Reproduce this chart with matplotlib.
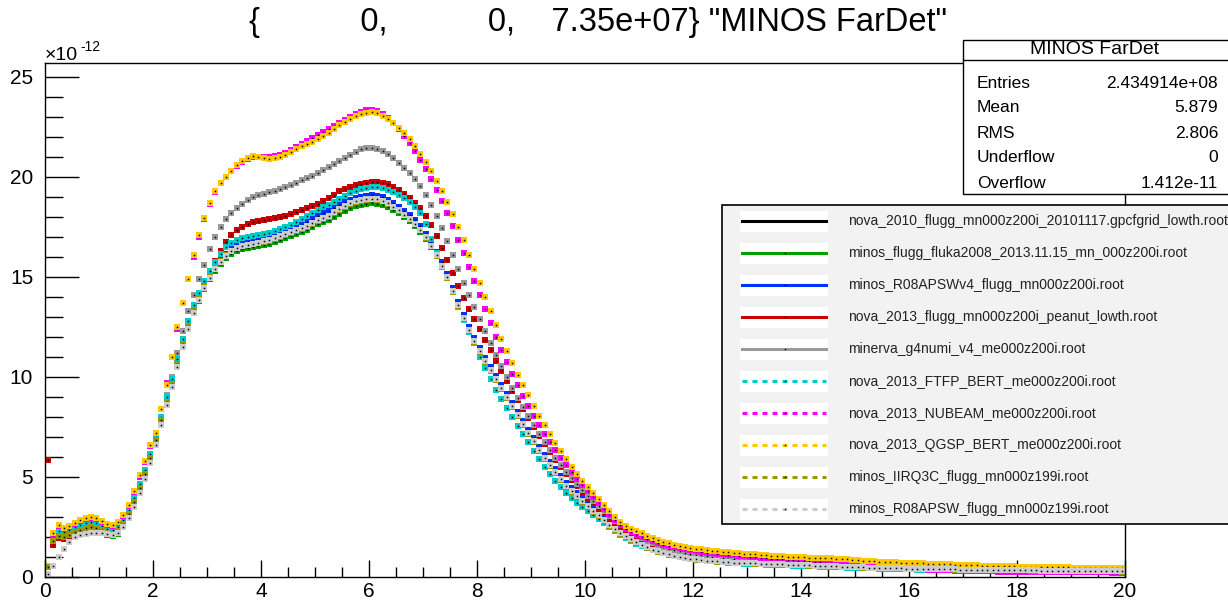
import numpy as np
import matplotlib
matplotlib.use("Agg")
import matplotlib.pyplot as plt
from matplotlib.patches import Rectangle
from matplotlib.lines import Line2D

plt.rcParams['font.family'] = ['Liberation Sans', 'DejaVu Sans']
plt.rcParams['lines.scale_dashes'] = False

# ---------------- data (units of 1e-12), 200 bins from 0 to 20 ----------------
x_min, x_max, n_bins = 0.0, 20.0, 200

nova_2010 = [0.5, 1.9, 2.1, 2.05, 2.15, 2.3, 2.4, 2.5, 2.55, 2.5,
 2.4, 2.25, 2.2, 2.35, 2.7, 3.2, 3.8, 4.5, 5.2, 6.0,
 6.9, 7.9, 8.8, 9.7, 10.7, 11.7, 12.6, 13.4, 14.0, 14.6,
 15.1, 15.5, 15.85, 16.15, 16.35, 16.5, 16.6, 16.65, 16.7, 16.75,
 16.8, 16.85, 16.95, 17.05, 17.15, 17.25, 17.35, 17.45, 17.55, 17.7,
 17.85, 17.95, 18.05, 18.25, 18.4, 18.55, 18.7, 18.8, 18.85, 18.9,
 18.95, 18.9, 18.85, 18.7, 18.55, 18.35, 18.15, 17.95, 17.7, 17.4,
 17.0, 16.6, 16.1, 15.6, 15.0, 14.3, 13.6, 12.95, 12.35, 11.8,
 11.3, 10.8, 10.35, 9.9, 9.45, 9.0, 8.55, 8.1, 7.65, 7.2,
 6.8, 6.35, 5.95, 5.6, 5.25, 4.9, 4.55, 4.3, 4.05, 3.8,
 3.55, 3.3, 3.1, 2.85, 2.6, 2.4, 2.2, 2.05, 1.9, 1.75,
 1.6, 1.48, 1.37, 1.28, 1.2, 1.13, 1.07, 1.01, 0.96, 0.92,
 0.88, 0.85, 0.82, 0.8, 0.78, 0.76, 0.74, 0.72, 0.71, 0.7,
 0.69, 0.68, 0.67, 0.66, 0.65, 0.64, 0.63, 0.62, 0.61, 0.6,
 0.59, 0.58, 0.57, 0.56, 0.55, 0.54, 0.53, 0.52, 0.51, 0.5,
 0.49, 0.48, 0.47, 0.46, 0.45, 0.45, 0.44, 0.43, 0.43, 0.42,
 0.42, 0.41, 0.41, 0.4, 0.4, 0.39, 0.39, 0.38, 0.38, 0.37,
 0.37, 0.37, 0.36, 0.36, 0.36, 0.35, 0.35, 0.35, 0.34, 0.34,
 0.34, 0.33, 0.33, 0.33, 0.32, 0.32, 0.32, 0.31, 0.31, 0.31,
 0.3, 0.3, 0.3, 0.3, 0.29, 0.29, 0.29, 0.28, 0.28, 0.28]

minos_fluka2008 = [0.5, 1.7, 1.95, 1.9, 2.0, 2.1, 2.2, 2.3, 2.35, 2.3,
 2.2, 2.1, 2.05, 2.15, 2.5, 3.0, 3.6, 4.3, 5.0, 5.8,
 6.7, 7.7, 8.6, 9.5, 10.5, 11.5, 12.4, 13.2, 13.8, 14.4,
 14.9, 15.3, 15.65, 15.95, 16.15, 16.3, 16.4, 16.45, 16.5, 16.55,
 16.6, 16.65, 16.75, 16.85, 16.95, 17.05, 17.15, 17.25, 17.35, 17.5,
 17.65, 17.75, 17.85, 18.0, 18.15, 18.3, 18.45, 18.55, 18.6, 18.65,
 18.7, 18.65, 18.6, 18.5, 18.35, 18.2, 18.0, 17.8, 17.55, 17.25,
 16.9, 16.5, 16.05, 15.55, 15.0, 14.35, 13.65, 13.0, 12.4, 11.85,
 11.35, 10.85, 10.4, 9.95, 9.5, 9.05, 8.6, 8.15, 7.7, 7.25,
 6.85, 6.4, 6.0, 5.65, 5.3, 4.95, 4.6, 4.35, 4.1, 3.85,
 3.6, 3.35, 3.12, 2.88, 2.64, 2.43, 2.23, 2.07, 1.92, 1.78,
 1.64, 1.51, 1.4, 1.3, 1.22, 1.15, 1.09, 1.03, 0.98, 0.94,
 0.9, 0.86, 0.83, 0.81, 0.79, 0.77, 0.75, 0.73, 0.72, 0.71,
 0.69, 0.68, 0.67, 0.66, 0.65, 0.64, 0.63, 0.62, 0.61, 0.6,
 0.59, 0.58, 0.57, 0.56, 0.55, 0.54, 0.53, 0.52, 0.51, 0.5,
 0.49, 0.48, 0.47, 0.46, 0.45, 0.45, 0.44, 0.43, 0.43, 0.42,
 0.42, 0.41, 0.41, 0.4, 0.4, 0.39, 0.39, 0.38, 0.38, 0.37,
 0.37, 0.37, 0.36, 0.36, 0.36, 0.35, 0.35, 0.35, 0.34, 0.34,
 0.34, 0.33, 0.33, 0.33, 0.32, 0.32, 0.32, 0.31, 0.31, 0.31,
 0.3, 0.3, 0.3, 0.3, 0.29, 0.29, 0.29, 0.28, 0.28, 0.28]

minos_R08APSWv4 = [0.5, 1.85, 2.1, 2.05, 2.15, 2.3, 2.4, 2.5, 2.55, 2.5,
 2.4, 2.25, 2.2, 2.35, 2.7, 3.2, 3.8, 4.5, 5.2, 6.0,
 6.9, 7.9, 8.8, 9.7, 10.7, 11.7, 12.6, 13.4, 14.0, 14.6,
 15.1, 15.5, 15.85, 16.15, 16.4, 16.55, 16.65, 16.75, 16.8, 16.85,
 16.9, 17.0, 17.1, 17.2, 17.3, 17.4, 17.5, 17.6, 17.75, 17.9,
 18.05, 18.2, 18.3, 18.45, 18.6, 18.75, 18.85, 18.95, 19.0, 19.05,
 19.1, 19.05, 19.0, 18.85, 18.7, 18.5, 18.3, 18.1, 17.85, 17.55,
 17.15, 16.75, 16.25, 15.75, 15.15, 14.45, 13.75, 13.1, 12.5, 11.95,
 11.45, 10.95, 10.5, 10.05, 9.6, 9.15, 8.7, 8.25, 7.8, 7.35,
 6.95, 6.5, 6.1, 5.75, 5.4, 5.05, 4.7, 4.45, 4.2, 3.95,
 3.7, 3.45, 3.22, 2.97, 2.72, 2.5, 2.3, 2.13, 1.97, 1.82,
 1.68, 1.55, 1.44, 1.34, 1.26, 1.19, 1.13, 1.07, 1.02, 0.97,
 0.93, 0.89, 0.86, 0.83, 0.81, 0.79, 0.77, 0.75, 0.74, 0.72,
 0.7, 0.69, 0.68, 0.67, 0.66, 0.65, 0.64, 0.63, 0.62, 0.61,
 0.6, 0.59, 0.58, 0.57, 0.56, 0.55, 0.54, 0.53, 0.52, 0.51,
 0.5, 0.49, 0.48, 0.47, 0.46, 0.46, 0.45, 0.44, 0.44, 0.43,
 0.43, 0.42, 0.42, 0.41, 0.41, 0.4, 0.4, 0.39, 0.39, 0.38,
 0.38, 0.38, 0.37, 0.37, 0.37, 0.36, 0.36, 0.36, 0.35, 0.35,
 0.35, 0.34, 0.34, 0.34, 0.33, 0.33, 0.33, 0.32, 0.32, 0.32,
 0.31, 0.31, 0.31, 0.31, 0.3, 0.3, 0.3, 0.29, 0.29, 0.29]

nova_2013_peanut = [5.85, 1.6, 1.95, 1.9, 2.0, 2.15, 2.3, 2.4, 2.45, 2.4,
 2.3, 2.15, 2.1, 2.25, 2.6, 3.1, 3.7, 4.4, 5.1, 5.9,
 6.9, 7.9, 8.9, 9.8, 10.9, 11.9, 12.8, 13.6, 14.2, 14.8,
 15.3, 15.8, 16.3, 16.75, 17.1, 17.35, 17.5, 17.65, 17.75, 17.8,
 17.85, 17.9, 17.95, 18.0, 18.05, 18.15, 18.25, 18.35, 18.45, 18.55,
 18.65, 18.8, 18.95, 19.1, 19.3, 19.4, 19.5, 19.6, 19.65, 19.7,
 19.75, 19.75, 19.7, 19.65, 19.5, 19.35, 19.15, 18.95, 18.7, 18.45,
 18.05, 17.6, 17.05, 16.45, 15.85, 15.2, 14.55, 13.95, 13.4, 12.9,
 12.4, 11.85, 11.35, 10.8, 10.3, 9.8, 9.3, 8.85, 8.4, 7.95,
 7.5, 7.05, 6.65, 6.25, 5.85, 5.5, 5.15, 4.85, 4.55, 4.25,
 3.95, 3.7, 3.45, 3.2, 2.95, 2.72, 2.52, 2.34, 2.18, 2.03,
 1.9, 1.78, 1.67, 1.57, 1.48, 1.4, 1.33, 1.27, 1.21, 1.16,
 1.11, 1.07, 1.03, 1.0, 0.97, 0.94, 0.91, 0.89, 0.87, 0.85,
 0.83, 0.81, 0.79, 0.77, 0.75, 0.74, 0.72, 0.71, 0.7, 0.69,
 0.68, 0.67, 0.66, 0.65, 0.64, 0.63, 0.62, 0.61, 0.6, 0.59,
 0.58, 0.57, 0.56, 0.55, 0.55, 0.54, 0.53, 0.52, 0.52, 0.51,
 0.5, 0.5, 0.49, 0.48, 0.48, 0.47, 0.46, 0.46, 0.45, 0.45,
 0.44, 0.44, 0.43, 0.43, 0.42, 0.42, 0.42, 0.41, 0.41, 0.4,
 0.4, 0.4, 0.39, 0.39, 0.39, 0.38, 0.38, 0.38, 0.37, 0.37,
 0.37, 0.36, 0.36, 0.36, 0.35, 0.35, 0.35, 0.35, 0.34, 0.34]

minerva_g4numi = [0.5, 1.8, 2.05, 2.0, 2.1, 2.25, 2.35, 2.45, 2.5, 2.45,
 2.35, 2.2, 2.15, 2.3, 2.65, 3.15, 3.75, 4.45, 5.15, 5.95,
 7.0, 8.0, 9.1, 10.0, 11.2, 12.3, 13.3, 14.1, 14.9, 15.6,
 16.4, 17.0, 17.5, 17.9, 18.2, 18.45, 18.65, 18.85, 19.0, 19.1,
 19.15, 19.25, 19.3, 19.4, 19.5, 19.6, 19.7, 19.85, 19.95, 20.05,
 20.2, 20.35, 20.5, 20.65, 20.8, 20.95, 21.1, 21.25, 21.4, 21.45,
 21.45, 21.4, 21.3, 21.15, 20.95, 20.7, 20.45, 20.2, 19.9, 19.55,
 19.1, 18.6, 18.05, 17.45, 16.8, 16.1, 15.4, 14.7, 14.1, 13.5,
 12.9, 12.3, 11.7, 11.1, 10.55, 10.0, 9.45, 8.95, 8.5, 8.05,
 7.6, 7.15, 6.75, 6.35, 5.95, 5.6, 5.25, 4.95, 4.65, 4.35,
 4.05, 3.8, 3.55, 3.3, 3.05, 2.8, 2.6, 2.4, 2.25, 2.1,
 1.95, 1.82, 1.7, 1.6, 1.5, 1.42, 1.35, 1.28, 1.22, 1.17,
 1.12, 1.08, 1.04, 1.0, 0.97, 0.94, 0.91, 0.88, 0.86, 0.84,
 0.82, 0.8, 0.78, 0.76, 0.75, 0.73, 0.72, 0.71, 0.7, 0.68,
 0.67, 0.66, 0.65, 0.64, 0.63, 0.62, 0.61, 0.6, 0.59, 0.58,
 0.57, 0.56, 0.55, 0.54, 0.53, 0.52, 0.51, 0.5, 0.5, 0.49,
 0.48, 0.47, 0.47, 0.46, 0.45, 0.45, 0.44, 0.43, 0.43, 0.42,
 0.42, 0.41, 0.41, 0.4, 0.4, 0.39, 0.39, 0.38, 0.38, 0.38,
 0.37, 0.37, 0.36, 0.36, 0.36, 0.35, 0.35, 0.35, 0.34, 0.34,
 0.34, 0.33, 0.33, 0.33, 0.32, 0.32, 0.32, 0.31, 0.31, 0.31]

nova_2013_FTFP_BERT = [0.5, 2.0, 2.3, 2.25, 2.35, 2.5, 2.6, 2.7, 2.75, 2.7,
 2.55, 2.4, 2.35, 2.5, 2.85, 3.35, 3.95, 4.65, 5.35, 6.15,
 7.0, 8.0, 9.0, 9.9, 10.9, 11.9, 12.8, 13.6, 14.2, 14.8,
 15.3, 15.75, 16.15, 16.5, 16.7, 16.85, 16.95, 17.0, 17.05, 17.1,
 17.15, 17.2, 17.3, 17.4, 17.5, 17.6, 17.75, 17.9, 18.05, 18.2,
 18.35, 18.5, 18.6, 18.75, 18.9, 19.05, 19.2, 19.3, 19.4, 19.45,
 19.5, 19.5, 19.45, 19.35, 19.25, 19.1, 18.95, 18.75, 18.5, 18.2,
 17.65, 16.9, 16.2, 15.5, 15.0, 14.3, 13.5, 12.85, 12.25, 11.7,
 11.0, 10.45, 9.9, 9.35, 8.9, 8.45, 8.0, 7.55, 7.15, 6.75,
 6.3, 5.9, 5.5, 5.15, 4.8, 4.5, 4.2, 3.95, 3.7, 3.5,
 3.3, 3.1, 2.9, 2.7, 2.5, 2.3, 2.1, 1.95, 1.8, 1.67,
 1.55, 1.44, 1.35, 1.27, 1.2, 1.13, 1.07, 1.01, 0.96, 0.92,
 0.88, 0.84, 0.81, 0.78, 0.76, 0.74, 0.72, 0.7, 0.68, 0.67,
 0.66, 0.64, 0.63, 0.62, 0.61, 0.6, 0.59, 0.58, 0.57, 0.56,
 0.55, 0.54, 0.53, 0.52, 0.51, 0.5, 0.49, 0.48, 0.47, 0.46,
 0.45, 0.44, 0.43, 0.43, 0.42, 0.41, 0.4, 0.4, 0.39, 0.38,
 0.38, 0.37, 0.37, 0.36, 0.36, 0.35, 0.35, 0.34, 0.34, 0.33,
 0.33, 0.33, 0.32, 0.32, 0.32, 0.31, 0.31, 0.31, 0.3, 0.3,
 0.3, 0.3, 0.29, 0.29, 0.29, 0.29, 0.28, 0.28, 0.28, 0.28,
 0.27, 0.27, 0.27, 0.27, 0.26, 0.26, 0.26, 0.26, 0.25, 0.25]

nova_2013_NUBEAM = [0.5, 2.1, 2.55, 2.4, 2.5, 2.65, 2.8, 2.9, 2.95, 2.9,
 2.75, 2.6, 2.55, 2.7, 3.05, 3.55, 4.25, 5.0, 5.75, 6.55,
 7.2, 8.4, 9.7, 11.0, 12.4, 13.7, 14.9, 16.0, 17.0, 17.9,
 18.65, 19.25, 19.7, 20.0, 20.3, 20.55, 20.75, 20.9, 21.0, 21.0,
 21.0, 21.0, 21.05, 21.1, 21.2, 21.35, 21.5, 21.65, 21.8, 21.95,
 22.1, 22.25, 22.4, 22.55, 22.7, 22.85, 23.0, 23.15, 23.25, 23.35,
 23.35, 23.3, 23.15, 22.95, 22.7, 22.4, 22.05, 21.7, 21.3, 20.85,
 20.4, 19.9, 19.35, 18.8, 18.2, 17.55, 16.85, 16.2, 15.5, 14.8,
 14.1, 13.4, 12.7, 12.0, 11.35, 10.75, 10.15, 9.6, 9.05, 8.55,
 8.05, 7.6, 7.15, 6.75, 6.35, 5.95, 5.6, 5.25, 4.9, 4.6,
 4.3, 4.0, 3.7, 3.4, 3.1, 2.85, 2.6, 2.4, 2.25, 2.1,
 2.0, 1.9, 1.8, 1.7, 1.62, 1.55, 1.49, 1.43, 1.38, 1.34,
 1.3, 1.26, 1.22, 1.19, 1.16, 1.13, 1.1, 1.08, 1.05, 1.03,
 1.0, 0.98, 0.96, 0.94, 0.92, 0.9, 0.88, 0.86, 0.84, 0.82,
 0.8, 0.78, 0.76, 0.74, 0.72, 0.7, 0.68, 0.66, 0.64, 0.62,
 0.6, 0.58, 0.56, 0.54, 0.52, 0.5, 0.48, 0.46, 0.44, 0.42,
 0.4, 0.39, 0.38, 0.37, 0.36, 0.35, 0.34, 0.33, 0.32, 0.31,
 0.3, 0.3, 0.29, 0.29, 0.28, 0.28, 0.27, 0.27, 0.27, 0.26,
 0.26, 0.26, 0.26, 0.25, 0.25, 0.25, 0.25, 0.24, 0.24, 0.24,
 0.24, 0.24, 0.23, 0.23, 0.23, 0.23, 0.23, 0.22, 0.22, 0.22]

nova_2013_QGSP_BERT = [0.55, 2.2, 2.6, 2.45, 2.55, 2.7, 2.85, 2.95, 3.0, 2.95,
 2.8, 2.65, 2.6, 2.75, 3.1, 3.6, 4.3, 5.1, 5.8, 6.6,
 7.2, 8.4, 9.6, 11.0, 12.5, 13.7, 14.9, 16.1, 17.1, 17.95,
 18.7, 19.3, 19.7, 20.0, 20.3, 20.6, 20.8, 20.95, 21.05, 21.0,
 20.95, 20.9, 20.95, 21.0, 21.1, 21.25, 21.4, 21.55, 21.65, 21.75,
 21.9, 22.05, 22.2, 22.4, 22.6, 22.75, 22.9, 23.05, 23.15, 23.2,
 23.25, 23.2, 23.05, 22.9, 22.7, 22.45, 22.2, 21.9, 21.55, 21.15,
 20.75, 20.3, 19.8, 19.3, 18.75, 18.15, 17.5, 16.85, 16.1, 15.4,
 14.7, 14.0, 13.3, 12.6, 11.9, 11.3, 10.7, 10.1, 9.6, 9.1,
 8.55, 8.05, 7.6, 7.15, 6.7, 6.3, 5.9, 5.5, 5.15, 4.8,
 4.5, 4.2, 3.9, 3.6, 3.3, 3.0, 2.75, 2.55, 2.4, 2.28,
 2.18, 2.05, 1.95, 1.85, 1.75, 1.68, 1.62, 1.56, 1.5, 1.46,
 1.42, 1.38, 1.35, 1.32, 1.29, 1.26, 1.24, 1.21, 1.19, 1.17,
 1.15, 1.13, 1.11, 1.09, 1.07, 1.05, 1.03, 1.02, 1.0, 0.99,
 0.98, 0.97, 0.96, 0.95, 0.94, 0.93, 0.92, 0.9, 0.88, 0.86,
 0.84, 0.82, 0.8, 0.78, 0.76, 0.75, 0.74, 0.73, 0.72, 0.71,
 0.7, 0.69, 0.68, 0.67, 0.66, 0.65, 0.64, 0.63, 0.62, 0.61,
 0.6, 0.59, 0.58, 0.57, 0.56, 0.55, 0.54, 0.54, 0.53, 0.53,
 0.52, 0.52, 0.51, 0.51, 0.5, 0.5, 0.49, 0.49, 0.48, 0.48,
 0.47, 0.47, 0.46, 0.46, 0.45, 0.45, 0.45, 0.44, 0.44, 0.44]

minos_IIRQ3C = [0.5, 1.8, 2.05, 2.0, 2.1, 2.25, 2.35, 2.45, 2.5, 2.45,
 2.35, 2.2, 2.15, 2.3, 2.65, 3.15, 3.75, 4.45, 5.15, 5.95,
 6.85, 7.85, 8.75, 9.65, 10.65, 11.65, 12.55, 13.35, 13.95, 14.55,
 15.05, 15.45, 15.8, 16.1, 16.3, 16.45, 16.55, 16.6, 16.65, 16.7,
 16.75, 16.8, 16.9, 17.0, 17.1, 17.2, 17.3, 17.4, 17.5, 17.65,
 17.8, 17.9, 18.0, 18.2, 18.35, 18.5, 18.65, 18.75, 18.8, 18.85,
 18.9, 18.85, 18.8, 18.65, 18.5, 18.3, 18.1, 17.9, 17.65, 17.35,
 16.95, 16.55, 16.05, 15.55, 14.95, 14.25, 13.55, 12.9, 12.3, 11.75,
 11.25, 10.75, 10.3, 9.85, 9.4, 8.95, 8.5, 8.05, 7.6, 7.15,
 6.75, 6.3, 5.9, 5.55, 5.2, 4.85, 4.5, 4.25, 4.0, 3.75,
 3.5, 3.25, 3.05, 2.8, 2.55, 2.35, 2.15, 2.0, 1.86, 1.72,
 1.58, 1.46, 1.36, 1.27, 1.19, 1.12, 1.06, 1.0, 0.95, 0.91,
 0.87, 0.84, 0.81, 0.79, 0.77, 0.75, 0.73, 0.71, 0.7, 0.69,
 0.68, 0.67, 0.66, 0.65, 0.64, 0.63, 0.62, 0.61, 0.6, 0.59,
 0.58, 0.57, 0.56, 0.55, 0.54, 0.53, 0.52, 0.51, 0.5, 0.49,
 0.48, 0.47, 0.46, 0.46, 0.45, 0.44, 0.44, 0.43, 0.42, 0.42,
 0.41, 0.41, 0.4, 0.4, 0.39, 0.39, 0.38, 0.38, 0.37, 0.37,
 0.36, 0.36, 0.36, 0.35, 0.35, 0.35, 0.34, 0.34, 0.34, 0.33,
 0.33, 0.33, 0.32, 0.32, 0.32, 0.31, 0.31, 0.31, 0.3, 0.3,
 0.3, 0.29, 0.29, 0.29, 0.29, 0.28, 0.28, 0.28, 0.28, 0.27]

minos_R08APSW = [0.15, 0.55, 1.0, 1.4, 1.75, 2.0, 2.1, 2.15, 2.2, 2.2,
 2.2, 2.15, 2.1, 2.2, 2.5, 2.95, 3.5, 4.2, 4.9, 5.7,
 6.6, 7.6, 8.6, 9.5, 10.5, 11.5, 12.4, 13.2, 13.85, 14.45,
 14.95, 15.4, 15.75, 16.05, 16.3, 16.45, 16.55, 16.6, 16.65, 16.7,
 16.8, 16.85, 16.95, 17.05, 17.15, 17.25, 17.35, 17.45, 17.55, 17.7,
 17.85, 17.95, 18.05, 18.25, 18.4, 18.55, 18.7, 18.8, 18.85, 18.9,
 18.9, 18.9, 18.8, 18.7, 18.5, 18.35, 18.1, 17.9, 17.65, 17.35,
 17.0, 16.55, 16.1, 15.55, 15.0, 14.3, 13.6, 12.95, 12.35, 11.8,
 11.3, 10.8, 10.35, 9.9, 9.45, 9.0, 8.55, 8.1, 7.65, 7.2,
 6.8, 6.35, 5.95, 5.6, 5.25, 4.9, 4.55, 4.3, 4.05, 3.8,
 3.55, 3.3, 3.1, 2.85, 2.6, 2.4, 2.2, 2.05, 1.9, 1.75,
 1.6, 1.48, 1.37, 1.28, 1.2, 1.13, 1.07, 1.01, 0.96, 0.92,
 0.88, 0.85, 0.82, 0.8, 0.78, 0.76, 0.74, 0.72, 0.71, 0.7,
 0.69, 0.68, 0.67, 0.66, 0.65, 0.64, 0.63, 0.62, 0.61, 0.6,
 0.59, 0.58, 0.57, 0.56, 0.55, 0.54, 0.53, 0.52, 0.51, 0.5,
 0.49, 0.48, 0.47, 0.46, 0.45, 0.45, 0.44, 0.43, 0.43, 0.42,
 0.42, 0.41, 0.41, 0.4, 0.4, 0.39, 0.39, 0.38, 0.38, 0.37,
 0.37, 0.37, 0.36, 0.36, 0.36, 0.35, 0.35, 0.35, 0.34, 0.34,
 0.34, 0.33, 0.33, 0.33, 0.32, 0.32, 0.32, 0.31, 0.31, 0.31,
 0.3, 0.3, 0.3, 0.3, 0.29, 0.29, 0.29, 0.28, 0.28, 0.28]

series_labels = [
    "nova_2010_flugg_mn000z200i_20101117.gpcfgrid_lowth.root",
    "minos_flugg_fluka2008_2013.11.15_mn_000z200i.root",
    "minos_R08APSWv4_flugg_mn000z200i.root",
    "nova_2013_flugg_mn000z200i_peanut_lowth.root",
    "minerva_g4numi_v4_me000z200i.root",
    "nova_2013_FTFP_BERT_me000z200i.root",
    "nova_2013_NUBEAM_me000z200i.root",
    "nova_2013_QGSP_BERT_me000z200i.root",
    "minos_IIRQ3C_flugg_mn000z199i.root",
    "minos_R08APSW_flugg_mn000z199i.root",
]
series_values = [nova_2010, minos_fluka2008, minos_R08APSWv4, nova_2013_peanut,
                 minerva_g4numi, nova_2013_FTFP_BERT, nova_2013_NUBEAM,
                 nova_2013_QGSP_BERT, minos_IIRQ3C, minos_R08APSW]
series_colors = ["#000000", "#00a000", "#0033ff", "#cc0000", "#999999",
                 "#00cccc", "#ff00ff", "#ffc800", "#999900", "#cccccc"]
series_dashed = [False, False, False, False, False, True, True, True, True, True]

title_text = '{%12g,%12g,%12g} "MINOS FarDet"' % (0, 0, 7.35e+07)
stats_title = "MINOS FarDet"
stats_names = ["Entries", "Mean", "RMS", "Underflow", "Overflow"]
stats_values = ["2.434914e+08", "5.879", "2.806", "0", "1.412e-11"]

# ---------------- figure ----------------
W, H = 1228, 603
fig = plt.figure(figsize=(W / 100, H / 100), dpi=100)
ax = fig.add_axes([45 / W, 1 - 577 / H, 1080 / W, 514 / H])

centers = x_min + (np.arange(n_bins) + 0.5) * (x_max - x_min) / n_bins
for vals, col in zip(series_values, series_colors):
    v = np.array(vals)
    ax.plot(centers, v, ls='none', marker='s', ms=3.9, mfc=col, mec=col, mew=0)
    ax.plot(centers, v, ls='none', marker='s', ms=1.1, mfc='k', mec='k', mew=0)

ax.set_xlim(x_min, x_max)
ax.set_ylim(0, 25.7)
ax.set_xticks(np.arange(0, 21, 2))
ax.set_xticks(np.arange(0, 20.01, 0.5), minor=True)
ax.set_yticks(np.arange(0, 26, 5))
ax.set_yticks(np.arange(0, 25.7, 1), minor=True)
ax.tick_params(axis='both', which='both', direction='in', top=False, right=False,
               width=1.0, color='black')
ax.tick_params(axis='y', which='major', length=24.5, labelsize=15, pad=8.5)
ax.tick_params(axis='y', which='minor', length=13)
ax.tick_params(axis='x', which='major', length=12, labelsize=15, pad=3.5)
ax.tick_params(axis='x', which='minor', length=7)
for s in ax.spines.values():
    s.set_linewidth(1.0)

# multiplier
fig.text(45 / W, 1 - 55 / H, "\u00d710", fontsize=14, ha='left', va='center')
fig.text(80 / W, 1 - 47 / H, "-12", fontsize=10, ha='left', va='center')

# title
fig.text(598 / W, 1 - 22 / H, title_text, fontsize=23.5, ha='center', va='center')

# ---------------- overlay: stats box and legend ----------------
ov = fig.add_axes([0, 0, 1, 1], zorder=10)
ov.set_xlim(0, W)
ov.set_ylim(H, 0)
ov.axis('off')
ov.patch.set_alpha(0)

ov.add_patch(Rectangle((963, 40), 280, 154, facecolor='white', edgecolor='black', lw=1.0))
ov.plot([963, W], [60, 60], color='black', lw=1.0)
ov.text(1095, 50, stats_title, fontsize=14, ha='center', va='center')
for i, (nm, vv) in enumerate(zip(stats_names, stats_values)):
    yy = 83 + i * 25
    ov.text(977, yy, nm, fontsize=12.5, ha='left', va='center')
    ov.text(1218, yy, vv, fontsize=12.5, ha='right', va='center')

ov.add_patch(Rectangle((722, 205), 520, 319, facecolor='#f2f2f2', edgecolor='black', lw=1.2))
for i, (lab, col, dsh) in enumerate(zip(series_labels, series_colors, series_dashed)):
    yy = 221 + i * 32.0
    ov.add_patch(Rectangle((740, yy - 10.5), 88, 21, facecolor='white', edgecolor='none'))
    ls = (0, (3.6, 3.6)) if dsh else '-'
    ov.add_line(Line2D([742, 826], [yy, yy], color=col, lw=2.2, linestyle=ls))
    ov.plot([785], [yy], marker='s', ms=1.0, color='k', mew=0)
    ov.text(848, yy, lab, fontsize=10, ha='left', va='center', color='#222222')

fig.savefig("out.png", dpi=100)
